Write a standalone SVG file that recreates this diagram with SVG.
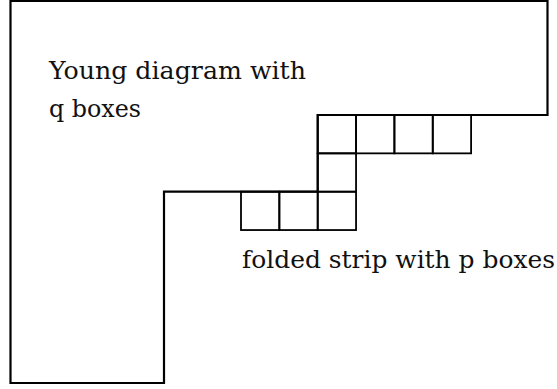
<svg xmlns="http://www.w3.org/2000/svg" width="557" height="389" viewBox="0 0 557 389">
<style>
.outline{fill:none;stroke:#000;stroke-width:2.2;stroke-linejoin:miter}
.box{fill:none;stroke:#000;stroke-width:1.8}
</style>
<rect width="557" height="389" fill="#fff"/>
<g id="young-diagram">
<path class="outline" d="M10.5,1 H547.5 V115 H317.7 V191.7 H164 V383 H10.5 Z"/>
</g>
<g id="strip">
<rect class="box" x="317.7" y="115" width="38.35" height="38.35"/>
<rect class="box" x="356.05" y="115" width="38.35" height="38.35"/>
<rect class="box" x="394.4" y="115" width="38.35" height="38.35"/>
<rect class="box" x="432.75" y="115" width="38.35" height="38.35"/>
<rect class="box" x="317.7" y="153.35" width="38.35" height="38.35"/>
<rect class="box" x="241" y="191.7" width="38.35" height="38.35"/>
<rect class="box" x="279.35" y="191.7" width="38.35" height="38.35"/>
<rect class="box" x="317.7" y="191.7" width="38.35" height="38.35"/>
</g>
<g id="labels" font-family="'DejaVu Serif', 'Liberation Serif', serif" font-size="25" fill="#111">
<g id="label-young">
<text x="49" y="79" textLength="257" lengthAdjust="spacingAndGlyphs">Young diagram with</text>
<text x="49" y="117" textLength="92" lengthAdjust="spacingAndGlyphs">q boxes</text>
</g>
<g id="label-strip">
<text x="242" y="268" textLength="313" lengthAdjust="spacingAndGlyphs">folded strip with p boxes</text>
</g>
</g>
</svg>
